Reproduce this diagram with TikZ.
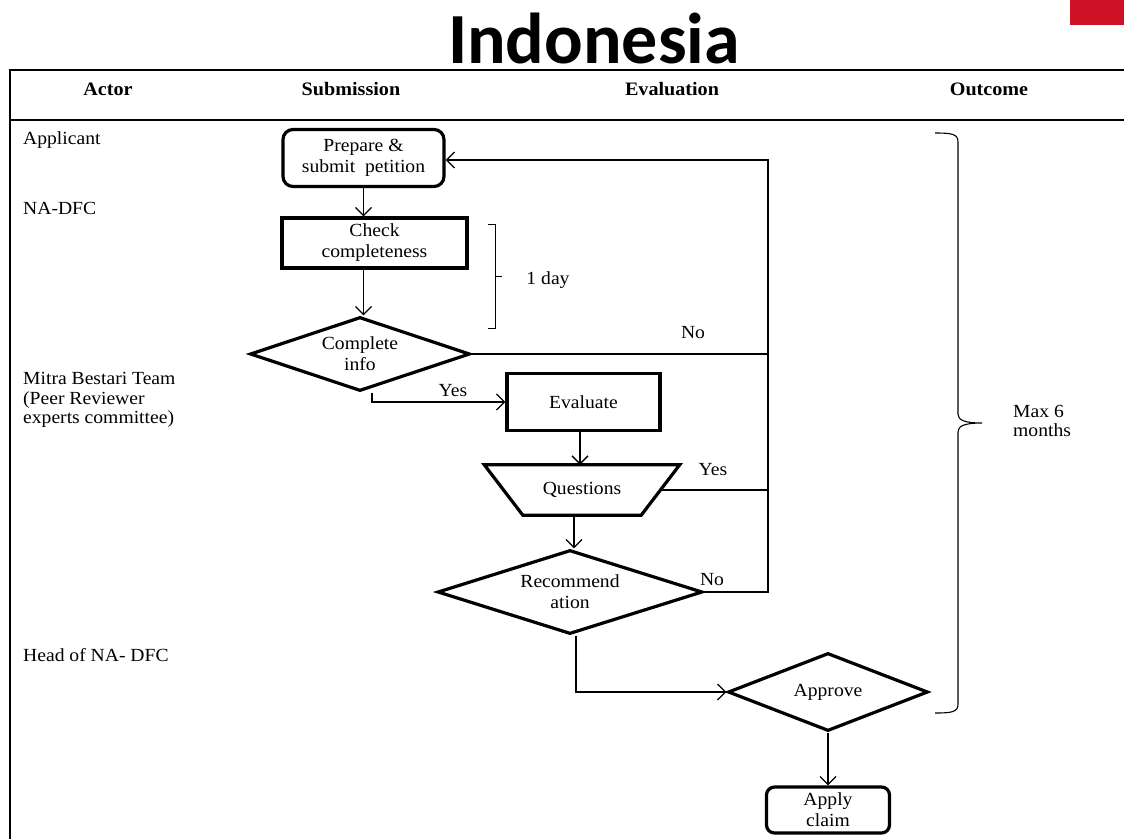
\documentclass[tikz,border=0pt]{standalone}
\usepackage{fontspec}
\setmainfont{Liberation Serif}[FakeStretch=1.06]
\newfontfamily\titlefont{Carlito}
\usetikzlibrary{arrows.meta,shapes.geometric}
\definecolor{flagred}{RGB}{206,17,38}
\begin{document}
\begin{tikzpicture}[x=1pt,y=-1pt,
  txt/.style={font=\fontsize{18.5}{21}\selectfont, inner sep=0pt, align=center},
  actor/.style={font=\fontsize{18.5}{19.5}\selectfont, inner sep=0pt, align=left, anchor=west},
  hd/.style={font=\fontsize{19}{22}\selectfont\bfseries, inner sep=0pt},
  frame/.style={line width=2pt},
  procbox/.style={txt, draw, line width=3.2pt},
  termbox/.style={procbox, rounded corners=10pt},
  decision/.style={txt, draw, diamond, line width=3.2pt, aspect=2.8},
  conn/.style={line width=1.3pt},
  arr/.style={conn, -{Straight Barb[length=8pt,width=16pt,line width=1.3pt]}},
  lbl/.style={txt}
]
\useasboundingbox (0,0) rectangle (1124,839);

% title and flag corner
\fill[flagred] (1070,0) rectangle (1124,25);
\node[font=\titlefont\bfseries\fontsize{72}{80}\selectfont, inner sep=0pt, anchor=base, text depth=0pt] (title) at (594,63) {Indonesia};

% table frame
\draw[frame] (1124,70) -- (10,70) -- (10,839);
\draw[frame] (10,120) -- (1124,120);

% column headings
\node[hd] (hactor) at (108,89) {Actor};
\node[hd] (hsub) at (351,89) {Submission};
\node[hd] (heval) at (672,89) {Evaluation};
\node[hd] (hout) at (989,89) {Outcome};

% actors
\node[actor] (a1) at (23,140) {Applicant};
\node[actor] (a2) at (23,208) {NA-DFC};
\node[actor] (a3) at (23,400) {Mitra Bestari Team\\(Peer Reviewer\\experts committee)};
\node[actor] (a4) at (23,655) {Head of NA- DFC};

% process steps
\node[termbox, minimum width=161pt, minimum height=57pt] (prep) at (363.5,158) {Prepare \&\\submit\ \ petition};
\node[procbox, minimum width=185pt, minimum height=50pt] (check) at (374.5,243) {Check\\completeness};
\node[decision, minimum width=220pt, minimum height=74pt] (cinfo) at (360,354) {Complete\\info};
\node[procbox, minimum width=153pt, minimum height=57pt] (eval) at (583.5,402) {Evaluate};
\node[txt, minimum width=195pt, minimum height=50pt] (quest) at (582,490) {Questions};
\draw[line width=3.2pt, line join=miter] (quest.north west) -- (quest.north east)
  -- ([xshift=-38.5pt]quest.south east) -- ([xshift=38.5pt]quest.south west) -- cycle;
\node[decision, minimum width=265pt, minimum height=84pt] (rec) at (570,592) {Recommend\\ation};
\node[decision, minimum width=200pt, minimum height=78pt] (app) at (828,692) {Approve};
\node[termbox, rounded corners=8pt, minimum width=123pt, minimum height=46pt] (apply) at (828,810) {Apply\\claim};

% return loop
\coordinate (loop) at (768,160);
\coordinate (qright) at ([xshift=-19pt]quest.east);

% connectors
\draw[arr] (prep.south) -- (prep.south |- check.north);
\draw[arr] (prep.south |- check.south) -- (prep.south |- cinfo.north);
\draw[arr] ([xshift=12pt]cinfo.south) |- (eval.west);
\draw[arr] (eval.south -| 580,0) -- (580,0 |- quest.north);
\draw[arr] ([xshift=-8pt]quest.south) -- ([xshift=-8pt]quest.south |- rec.north);
\draw[arr] ([xshift=6pt]rec.south) |- (app.west);
\draw[arr] (app.south) -- (apply.north);
\draw[conn] (cinfo.east) -- (cinfo.east -| loop);
\draw[conn] (qright) -- (qright -| loop);
\draw[arr] (rec.east) -- (rec.east -| loop) -- (loop) -- (loop -| prep.east);

% branch labels
\node[lbl] (lno1) at (693,333) {No};
\node[lbl] (lyes1) at (453,391) {Yes};
\node[lbl] (lyes2) at (713,470) {Yes};
\node[lbl] (lno2) at (712,580) {No};

% one-day bracket
\draw[conn, line width=1pt] (488,224) -- (495,224) -- (495,328) -- (488,328);
\draw[conn, line width=1pt] (495,276) -- (502,276);
\node[lbl] (day) at (548,280) {1 day};

% six-month brace
\draw[line width=1.1pt] (935,133) .. controls (952,133) and (958,134) .. (958,142)
  -- (958,414) .. controls (958,420) and (964,423) .. (982,423)
  .. controls (964,423) and (958,426) .. (958,432)
  -- (958,704) .. controls (958,712) and (952,713) .. (935,713);
\node[actor] (six) at (1013,421) {Max 6\\months};
\end{tikzpicture}
\end{document}
